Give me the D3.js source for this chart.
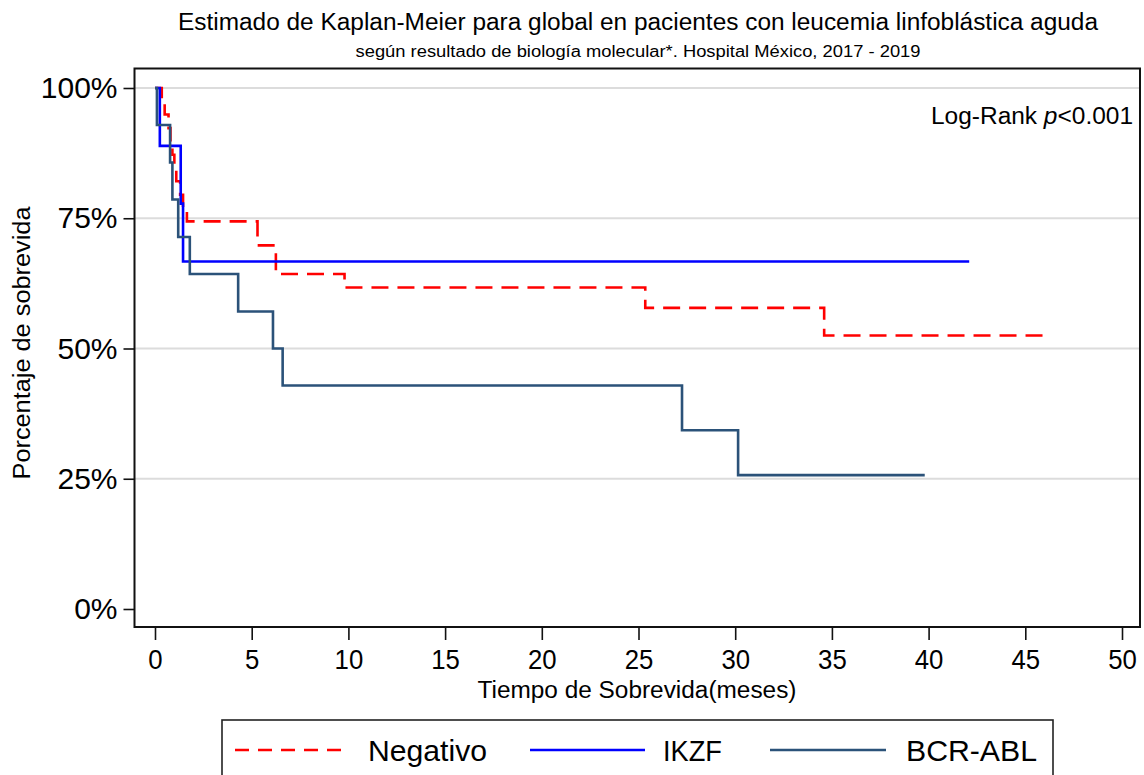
<!DOCTYPE html>
<html>
<head>
<meta charset="utf-8">
<script src="https://cdn.jsdelivr.net/npm/d3@7"></script>
<style>
  html, body { margin: 0; padding: 0; background: #fff; }
  svg { display: block; font-family: Arial, "Liberation Sans", sans-serif; }
</style>
</head>
<body>
<svg id="chart" width="1144" height="775"></svg>
<script>
// Kaplan-Meier step data (time in months, survival proportion)
const negativoTimes = [0, 0.35, 0.5, 0.7, 0.8, 0.9, 1.0, 1.1, 1.3, 1.45, 1.65, 5.3, 6.25, 9.8, 25.35, 34.6, 46.1];
const negativoSurv  = [1, 0.974, 0.949, 0.923, 0.897, 0.872, 0.846, 0.821, 0.795, 0.769, 0.744, 0.698, 0.643, 0.617, 0.578, 0.525, 0.525];

const ikzfTimes = [0, 0.25, 1.33, 1.45, 42.1];
const ikzfSurv  = [1, 0.889, 0.778, 0.667, 0.667];

const bcrTimes = [0, 0.1, 0.78, 0.9, 1.2, 1.8, 4.3, 6.1, 6.6, 27.25, 30.15, 39.8];
const bcrSurv  = [1, 0.929, 0.857, 0.786, 0.714, 0.643, 0.571, 0.500, 0.429, 0.343, 0.257, 0.257];

const xTicks = [0, 5, 10, 15, 20, 25, 30, 35, 40, 45, 50];
const yTicks = [0, 0.25, 0.5, 0.75, 1];

const seriesNames = ["Negativo", "IKZF", "BCR-ABL"];
const seriesColors = ["#ff0000", "#0000ff", "#2b5279"];
const seriesDash = ["17,9", null, null];

const titleText = "Estimado de Kaplan-Meier para global en pacientes con leucemia linfoblástica aguda";
const subtitleText = "según resultado de biología molecular*. Hospital México, 2017 - 2019";
const xTitle = "Tiempo de Sobrevida(meses)";
const yTitle = "Porcentaje de sobrevida";

const svg = d3.select("#chart");

const x = d3.scaleLinear().domain([0, 50]).range([155, 1122]);
const y = d3.scaleLinear().domain([0, 1]).range([609, 88]);

// plot frame bounds
const frame = { left: 134.5, right: 1140, top: 68.5, bottom: 627 };

// horizontal grid lines
svg.append("g")
  .selectAll("line")
  .data(yTicks.filter(d => d > 0))
  .join("line")
  .attr("x1", frame.left).attr("x2", frame.right)
  .attr("y1", d => y(d)).attr("y2", d => y(d))
  .attr("stroke", "#dcdcdc").attr("stroke-width", 2);

// survival curves
const series = [
  { times: negativoTimes, surv: negativoSurv },
  { times: ikzfTimes, surv: ikzfSurv },
  { times: bcrTimes, surv: bcrSurv }
];

const line = d3.line()
  .x(d => x(d[0]))
  .y(d => y(d[1]))
  .curve(d3.curveStepAfter);

series.forEach((s, i) => {
  const pts = s.times.map((t, k) => [t, s.surv[k]]);
  svg.append("path")
    .datum(pts)
    .attr("d", line)
    .attr("fill", "none")
    .attr("stroke", seriesColors[i])
    .attr("stroke-width", 2.6)
    .attr("stroke-dasharray", seriesDash[i]);
});

// frame
svg.append("rect")
  .attr("x", frame.left).attr("y", frame.top)
  .attr("width", frame.right - frame.left)
  .attr("height", frame.bottom - frame.top)
  .attr("fill", "none").attr("stroke", "#111").attr("stroke-width", 2);

// x axis
const xAxis = svg.append("g")
  .attr("transform", `translate(0,${frame.bottom})`)
  .call(d3.axisBottom(x).tickValues(xTicks).tickSize(13).tickPadding(9).tickFormat(d3.format("d")));
xAxis.select(".domain").remove();
xAxis.selectAll(".tick line").attr("stroke", "#111").attr("stroke-width", 1.6);
xAxis.selectAll(".tick text").attr("font-size", 28).attr("fill", "#000")
  .attr("font-family", "Arial, 'Liberation Sans', sans-serif")
  .attr("transform", "scale(0.92,1)");

// y axis
const yAxis = svg.append("g")
  .attr("transform", `translate(${frame.left},0)`)
  .call(d3.axisLeft(y).tickValues(yTicks).tickSize(11).tickPadding(6).tickFormat(d3.format(".0%")));
yAxis.select(".domain").remove();
yAxis.selectAll(".tick line").attr("stroke", "#111").attr("stroke-width", 1.6);
yAxis.selectAll(".tick text").attr("font-size", 30).attr("fill", "#000")
  .attr("font-family", "Arial, 'Liberation Sans', sans-serif");

// titles
svg.append("text")
  .attr("x", 638).attr("y", 30)
  .attr("text-anchor", "middle")
  .attr("font-size", 23)
  .attr("textLength", 920).attr("lengthAdjust", "spacingAndGlyphs")
  .text(titleText);

svg.append("text")
  .attr("x", 638).attr("y", 57)
  .attr("text-anchor", "middle")
  .attr("font-size", 16)
  .attr("textLength", 565).attr("lengthAdjust", "spacingAndGlyphs")
  .text(subtitleText);

svg.append("text")
  .attr("x", 637).attr("y", 698)
  .attr("text-anchor", "middle")
  .attr("font-size", 23)
  .attr("textLength", 319).attr("lengthAdjust", "spacingAndGlyphs")
  .text(xTitle);

svg.append("text")
  .attr("transform", "translate(30,343) rotate(-90)")
  .attr("text-anchor", "middle")
  .attr("font-size", 23)
  .attr("textLength", 273).attr("lengthAdjust", "spacingAndGlyphs")
  .text(yTitle);

// log-rank annotation
const lr = svg.append("text")
  .attr("x", 1133).attr("y", 124)
  .attr("text-anchor", "end")
  .attr("font-size", 23)
  .attr("textLength", 202).attr("lengthAdjust", "spacingAndGlyphs");
lr.append("tspan").text("Log-Rank ");
lr.append("tspan").attr("font-style", "italic").text("p");
lr.append("tspan").text("<0.001");

// legend
const legend = svg.append("g");
legend.append("rect")
  .attr("x", 222).attr("y", 720)
  .attr("width", 831).attr("height", 70)
  .attr("fill", "#fff").attr("stroke", "#222").attr("stroke-width", 1.6);

const legendItems = [
  { x0: 235, x1: 349, tx: 368, w: 119 },
  { x0: 530, x1: 645, tx: 663, w: 59 },
  { x0: 770, x1: 886, tx: 906, w: 131 }
];
legendItems.forEach((it, i) => {
  legend.append("line")
    .attr("x1", it.x0).attr("x2", it.x1)
    .attr("y1", 750).attr("y2", 750)
    .attr("stroke", seriesColors[i]).attr("stroke-width", 2.6)
    .attr("stroke-dasharray", i === 0 ? "14,9" : null);
  legend.append("text")
    .attr("x", it.tx).attr("y", 761)
    .attr("font-size", 30)
    .attr("textLength", it.w).attr("lengthAdjust", "spacingAndGlyphs")
    .text(seriesNames[i]);
});
</script>
</body>
</html>
